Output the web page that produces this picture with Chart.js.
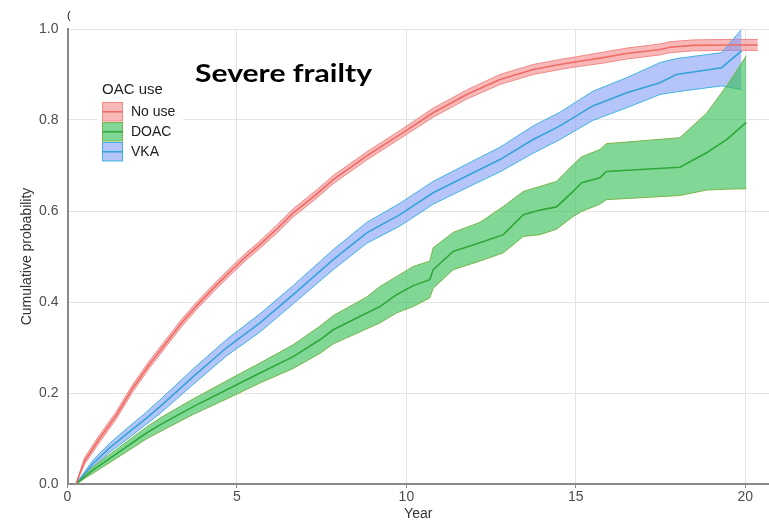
<!DOCTYPE html>
<html>
<head>
<meta charset="utf-8">
<script src="https://cdn.jsdelivr.net/npm/chart.js@4/dist/chart.umd.min.js"></script>
<style>
  html, body { margin: 0; padding: 0; background: #fff; }
  #wrap { width: 769px; height: 525px; position: relative; }
</style>
</head>
<body>
<div id="wrap"><canvas id="cumPlot"></canvas></div>
<script>
// Cumulative probability by OAC use, severe frailty group
const seriesNames = ['No use', 'DOAC', 'VKA'];
const xTicks = [0, 5, 10, 15, 20];
const yTicks = [0.0, 0.2, 0.4, 0.6, 0.8, 1.0];

// No use
const noUseYear = [0.25, 0.5, 0.9, 1.43, 1.92, 2.41, 2.91, 3.4, 3.89, 4.38, 4.87, 5.27, 5.68, 6.2, 6.66, 7.3, 7.84, 8.83, 9.81, 10.79, 11.78, 12.76, 13.74, 14.53, 15.02, 15.8, 16.5, 17.48, 17.78, 18.45, 19.4, 20.37];
const noUseMean = [0.0, 0.050, 0.095, 0.150, 0.210, 0.262, 0.310, 0.357, 0.398, 0.436, 0.472, 0.500, 0.526, 0.562, 0.596, 0.634, 0.669, 0.721, 0.768, 0.816, 0.856, 0.889, 0.911, 0.922, 0.928, 0.937, 0.946, 0.955, 0.960, 0.964, 0.965, 0.965];
const noUseLow  = [0.0, 0.043, 0.087, 0.142, 0.202, 0.254, 0.302, 0.349, 0.390, 0.428, 0.464, 0.492, 0.518, 0.553, 0.587, 0.625, 0.660, 0.712, 0.759, 0.806, 0.846, 0.878, 0.900, 0.911, 0.917, 0.925, 0.934, 0.943, 0.948, 0.952, 0.953, 0.953];
const noUseHigh = [0.0, 0.057, 0.103, 0.158, 0.218, 0.270, 0.318, 0.365, 0.406, 0.444, 0.480, 0.508, 0.534, 0.571, 0.605, 0.643, 0.678, 0.730, 0.777, 0.826, 0.866, 0.900, 0.922, 0.933, 0.939, 0.949, 0.958, 0.967, 0.972, 0.976, 0.977, 0.977];

// DOAC
const doacYear = [0.25, 0.76, 1.75, 2.33, 2.73, 3.71, 4.7, 5.68, 6.66, 7.45, 7.84, 8.83, 9.22, 9.71, 10.2, 10.69, 10.79, 11.38, 12.17, 12.86, 13.45, 13.94, 14.43, 14.92, 15.17, 15.71, 15.9, 18.07, 18.86, 19.45, 20.03];
const doacMean = [0.0, 0.031, 0.082, 0.112, 0.130, 0.170, 0.207, 0.244, 0.280, 0.317, 0.339, 0.376, 0.390, 0.416, 0.436, 0.449, 0.471, 0.511, 0.530, 0.548, 0.592, 0.602, 0.609, 0.643, 0.662, 0.673, 0.687, 0.696, 0.728, 0.757, 0.795];
const doacLow  = [0.0, 0.024, 0.071, 0.099, 0.115, 0.153, 0.187, 0.222, 0.254, 0.287, 0.308, 0.341, 0.354, 0.376, 0.390, 0.409, 0.430, 0.471, 0.490, 0.508, 0.544, 0.548, 0.560, 0.588, 0.599, 0.615, 0.625, 0.634, 0.646, 0.648, 0.649];
const doacHigh = [0.0, 0.038, 0.093, 0.125, 0.145, 0.187, 0.227, 0.266, 0.306, 0.347, 0.370, 0.411, 0.434, 0.456, 0.478, 0.490, 0.519, 0.553, 0.575, 0.610, 0.643, 0.654, 0.665, 0.702, 0.719, 0.735, 0.748, 0.761, 0.815, 0.875, 0.941];

// VKA
const vkaYear = [0.25, 0.76, 1.25, 1.75, 2.25, 2.73, 3.71, 4.7, 5.68, 6.66, 7.84, 8.83, 9.81, 10.79, 11.78, 12.76, 13.74, 14.53, 15.5, 16.5, 17.48, 17.97, 19.3, 19.89];
const vkaMean = [0.0, 0.045, 0.080, 0.110, 0.140, 0.170, 0.236, 0.300, 0.354, 0.416, 0.493, 0.552, 0.592, 0.640, 0.677, 0.713, 0.757, 0.787, 0.831, 0.860, 0.882, 0.900, 0.915, 0.952];
const vkaLow  = [0.0, 0.037, 0.070, 0.098, 0.127, 0.155, 0.219, 0.282, 0.334, 0.396, 0.471, 0.529, 0.567, 0.615, 0.651, 0.686, 0.727, 0.757, 0.799, 0.827, 0.856, 0.862, 0.875, 0.867];
const vkaHigh = [0.0, 0.053, 0.090, 0.122, 0.153, 0.185, 0.253, 0.318, 0.374, 0.436, 0.515, 0.575, 0.617, 0.665, 0.703, 0.740, 0.787, 0.817, 0.863, 0.893, 0.926, 0.935, 0.948, 0.999];

const series = [
    { name: seriesNames[0], year: noUseYear, mean: noUseMean, low: noUseLow, high: noUseHigh,
      line: '#ef6b66', edge: '#f08a87', fill: 'rgba(243, 140, 140, 0.62)', layer: 12 },
    { name: seriesNames[1], year: doacYear, mean: doacMean, low: doacLow, high: doacHigh,
      line: '#2fa83a', edge: '#79b548', fill: 'rgba(52, 190, 85, 0.62)', layer: 10 },
    { name: seriesNames[2], year: vkaYear, mean: vkaMean, low: vkaLow, high: vkaHigh,
      line: '#34a3d8', edge: '#3fb4df', fill: 'rgba(120, 150, 245, 0.55)', layer: 11 }
];

function toPoints(xs, ys) {
    return xs.map((x, i) => ({ x: x, y: ys[i] }));
}

const datasets = [];
series.forEach(function(s, k) {
    const lowIndex = datasets.length;
    datasets.push({
        label: s.name + ' lower', data: toPoints(s.year, s.low),
        borderColor: s.edge, borderWidth: 1, pointRadius: 0, fill: false, order: s.layer
    });
    datasets.push({
        label: s.name + ' upper', data: toPoints(s.year, s.high),
        borderColor: s.edge, borderWidth: 1, pointRadius: 0,
        backgroundColor: s.fill, fill: { target: lowIndex }, order: s.layer
    });
    datasets.push({
        label: s.name, data: toPoints(s.year, s.mean),
        borderColor: s.line, borderWidth: 1.6, pointRadius: 0, fill: false, order: k
    });
});

// headline, legend box and stray glyph drawn over the plot
const overlayPlugin = {
    id: 'overlay',
    afterDraw(chart) {
        const ctx = chart.ctx;
        ctx.save();

        ctx.fillStyle = '#111';
        ctx.font = '11px "Liberation Sans"';
        ctx.textBaseline = 'alphabetic';
        ctx.fillText('(', 67, 19);

        // headline, stretched to the width of the boxed label
        ctx.fillStyle = '#000';
        ctx.font = 'bold 24px Lato';
        const headline = 'Severe frailty';
        const stretch = 177 / ctx.measureText(headline).width;
        ctx.save();
        ctx.translate(195, 82);
        ctx.scale(stretch, 1);
        ctx.fillText(headline, 0, 0);
        ctx.restore();

        // legend
        ctx.fillStyle = '#fff';
        ctx.fillRect(97, 72, 86, 92);
        ctx.fillStyle = '#222';
        ctx.font = '15px "Liberation Sans"';
        ctx.fillText('OAC use', 102, 94);

        const boxTop = [102.5, 122.5, 142.5];
        series.forEach(function(s, k) {
            const y0 = boxTop[k];
            ctx.fillStyle = s.fill;
            ctx.fillRect(102.5, y0, 20, 18.5);
            ctx.strokeStyle = s.edge;
            ctx.lineWidth = 1;
            ctx.strokeRect(102.5, y0, 20, 18.5);
            ctx.strokeStyle = s.line;
            ctx.lineWidth = 1.6;
            ctx.beginPath();
            ctx.moveTo(102.5, y0 + 9.25);
            ctx.lineTo(122.5, y0 + 9.25);
            ctx.stroke();
            ctx.fillStyle = '#222';
            ctx.font = '14px "Liberation Sans"';
            ctx.textBaseline = 'middle';
            ctx.fillText(s.name, 131, y0 + 10);
            ctx.textBaseline = 'alphabetic';
        });
        ctx.restore();
    }
};

const tickFont = { family: 'Liberation Sans', size: 14 };

new Chart(document.getElementById('cumPlot'), {
    type: 'line',
    data: { datasets: datasets },
    options: {
        responsive: true,
        maintainAspectRatio: false,
        animation: false,
        layout: { padding: { top: 29, right: 0, left: 0, bottom: 0 } },
        elements: { line: { tension: 0 } },
        scales: {
            x: {
                type: 'linear',
                min: 0,
                max: 20.7,
                afterFit: function(scale) { scale.height = 41; },
                afterBuildTicks: function(scale) {
                    scale.ticks = xTicks.map(v => ({ value: v }));
                },
                ticks: { font: tickFont, color: '#4d4d4d', padding: 1, maxRotation: 0 },
                grid: { color: '#e4e4e4', lineWidth: 1, tickColor: '#888', tickLength: 4 },
                border: { color: '#8a8a8a', width: 2 },
                title: {
                    display: true, text: 'Year', color: '#333',
                    font: { family: 'Liberation Sans', size: 14 },
                    padding: { top: 0, bottom: 2 }
                }
            },
            y: {
                min: 0,
                max: 1.0,
                afterFit: function(scale) { scale.width = 67.5; },
                afterBuildTicks: function(scale) {
                    scale.ticks = yTicks.map(v => ({ value: v }));
                },
                ticks: {
                    font: tickFont, color: '#4d4d4d', padding: 5,
                    callback: function(v) { return Number(v).toFixed(1); }
                },
                grid: { color: '#e4e4e4', lineWidth: 1, tickColor: 'rgba(0,0,0,0)', tickLength: 4 },
                border: { color: '#8a8a8a', width: 2 },
                title: {
                    display: true, text: 'Cumulative probability', color: '#333',
                    font: { family: 'Liberation Sans', size: 14 },
                    padding: { top: 19, bottom: 0 }
                }
            }
        },
        plugins: {
            legend: { display: false },
            tooltip: { enabled: false }
        }
    },
    plugins: [overlayPlugin]
});
</script>
</body>
</html>
